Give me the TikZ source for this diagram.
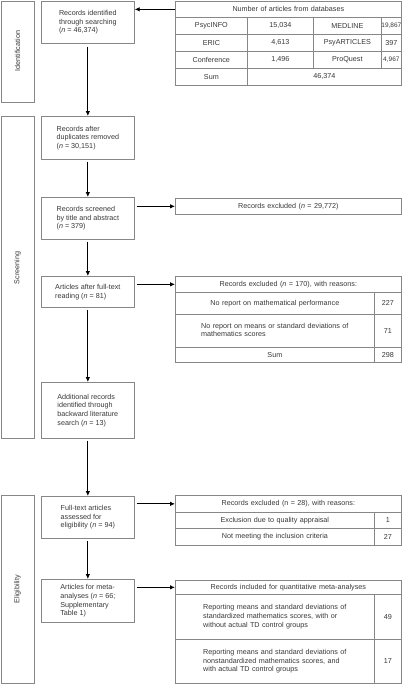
\documentclass[tikz,border=0pt]{standalone}
\usepackage{fontspec}
\setmainfont{Liberation Sans}
\usetikzlibrary{arrows.meta}
\definecolor{linegray}{RGB}{135,135,135}
\definecolor{textgray}{RGB}{55,55,55}
\newcommand{\fs}{\fontsize{7.2}{8.6}\selectfont}
\begin{document}
\begin{tikzpicture}[x=1pt,y=-1pt,
  box/.style={draw=linegray, line width=0.7pt, anchor=north west, inner sep=0pt, align=left, font=\fs, text=textgray},
  side/.style={draw=linegray, line width=0.7pt, anchor=north west, inner sep=0pt, minimum width=33pt},
  sidelabel/.style={rotate=90, font=\fs, text=textgray},
  cell/.style={draw=linegray, line width=0.7pt, anchor=north west, inner xsep=0pt, inner ysep=0pt, align=center, font=\fs, text=textgray},
  arr/.style={black, line width=0.8pt, -{Latex[length=5pt,width=4.5pt]}},
]
\useasboundingbox (0,0) rectangle (403,685);

% side bars
\node[side, minimum height=101pt] (s1) at (1,1) {};
\node[side, minimum height=322pt] (s2) at (1,116) {};
\node[side, minimum height=188pt] (s3) at (1,495) {};
\node[sidelabel] (l1) at (17.5,51) {Identification};
\node[sidelabel] (l2) at (17.5,268) {Screening};
\node[sidelabel] (l3) at (17.5,589) {Eligibility};

% left column
\node[box, minimum width=93pt, minimum height=42pt] (b1) at (41,1) {Records identified\\through searching\\(\textit{n} = 46,374)};
\node[box, minimum width=93pt, minimum height=43pt] (b2) at (41,116) {Records after\\duplicates removed\\(\textit{n} = 30,151)};
\node[box, minimum width=93pt, minimum height=42pt] (b3) at (41,197) {Records screened\\by title and abstract\\(\textit{n} = 379)};
\node[box, minimum width=93pt, minimum height=31pt] (b4) at (41,276) {Articles after full-text\\reading (\textit{n} = 81)};
\node[box, minimum width=93pt, minimum height=56pt] (b5) at (41,382) {Additional records\\identified through\\backward literature\\search (\textit{n} = 13)};
\node[box, minimum width=93pt, minimum height=42pt] (b6) at (41,496) {Full-text articles\\assessed for\\eligibility (\textit{n} = 94)};
\node[box, minimum width=93pt, minimum height=43pt] (b7) at (41,579) {Articles for meta-\\analyses (\textit{n} = 66;\\Supplementary\\Table 1)};

% table 1: databases
\node[cell, text width=226pt, minimum height=16pt] (t1h) at (175,1) {Number of articles from databases};
\node[cell, text width=72pt, minimum height=17pt] (t1a1) at (175,17) {PsycINFO};
\node[cell, text width=66pt, minimum height=17pt] (t1a2) at (247,17) {15,034};
\node[cell, text width=68pt, minimum height=17pt] (t1a3) at (313,17) {MEDLINE};
\node[cell, text width=20pt, minimum height=17pt] (t1a4) at (381,17) {\fontsize{6.5}{8}\selectfont 19,867};
\node[cell, text width=72pt, minimum height=17pt] (t1b1) at (175,34) {ERIC};
\node[cell, text width=66pt, minimum height=17pt] (t1b2) at (247,34) {4,613};
\node[cell, text width=68pt, minimum height=17pt] (t1b3) at (313,34) {PsyARTICLES};
\node[cell, text width=20pt, minimum height=17pt] (t1b4) at (381,34) {397};
\node[cell, text width=72pt, minimum height=17pt] (t1c1) at (175,51) {Conference};
\node[cell, text width=66pt, minimum height=17pt] (t1c2) at (247,51) {1,496};
\node[cell, text width=68pt, minimum height=17pt] (t1c3) at (313,51) {ProQuest};
\node[cell, text width=20pt, minimum height=17pt] (t1c4) at (381,51) {\fontsize{6.5}{8}\selectfont 4,967};
\node[cell, text width=72pt, minimum height=17pt] (t1d1) at (175,68) {Sum};
\node[cell, text width=154pt, minimum height=17pt] (t1d2) at (247,68) {46,374};

% excluded 29,772
\node[cell, text width=226pt, minimum height=16pt] (e1) at (175,198) {Records excluded (\textit{n} = 29,772)};

% excluded 170
\node[cell, text width=226pt, minimum height=16pt] (e2h) at (175,276) {Records excluded (\textit{n} = 170), with reasons:};
\node[cell, text width=199pt, minimum height=22pt] (e2a) at (175,292) {No report on mathematical performance};
\node[cell, text width=27pt, minimum height=22pt] (e2an) at (374,292) {227};
\node[cell, text width=199pt, minimum height=33pt] (e2b) at (175,314) {\begin{tabular}{@{}l@{}}No report on means or standard deviations of\\mathematics scores\end{tabular}};
\node[cell, text width=27pt, minimum height=33pt] (e2bn) at (374,314) {71};
\node[cell, text width=199pt, minimum height=15pt] (e2c) at (175,347) {Sum};
\node[cell, text width=27pt, minimum height=15pt] (e2cn) at (374,347) {298};

% excluded 28
\node[cell, text width=226pt, minimum height=17pt] (e3h) at (175,495) {Records excluded (n = 28), with reasons:};
\node[cell, text width=199pt, minimum height=16pt] (e3a) at (175,512) {Exclusion due to quality appraisal};
\node[cell, text width=27pt, minimum height=16pt] (e3an) at (374,512) {1};
\node[cell, text width=199pt, minimum height=17pt] (e3b) at (175,528) {Not meeting the inclusion criteria};
\node[cell, text width=27pt, minimum height=17pt] (e3bn) at (374,528) {27};

% included
\node[cell, text width=226pt, minimum height=14pt] (i1h) at (175,580) {Records included for quantitative meta-analyses};
\node[cell, text width=199pt, minimum height=45pt] (i1a) at (175,594) {\begin{tabular}{@{}l@{}}Reporting means and standard deviations of\\standardized mathematics scores, with or\\without actual TD control groups\end{tabular}};
\node[cell, text width=27pt, minimum height=45pt] (i1an) at (374,594) {49};
\node[cell, text width=199pt, minimum height=44pt] (i1b) at (175,639) {\begin{tabular}{@{}l@{}}Reporting means and standard deviations of\\nonstandardized mathematics scores, and\\with actual TD control groups\end{tabular}};
\node[cell, text width=27pt, minimum height=44pt] (i1bn) at (374,639) {17};

% arrows
\draw[arr] (t1h.west) -- (t1h.west -| b1.east);
\draw[arr, shorten <=3pt] (b1.south) -- (b2.north);
\draw[arr, shorten <=2pt] (b2.south) -- (b3.north);
\draw[arr, shorten <=2pt] (b3.south) -- (b4.north);
\draw[arr, shorten <=2pt] (b4.south) -- (b5.north);
\draw[arr, shorten <=2pt] (b5.south) -- (b6.north);
\draw[arr, shorten <=2pt] (b6.south) -- (b7.north);
\draw[arr, shorten <=2pt] (e1.west -| b3.east) -- (e1.west);
\draw[arr, shorten <=2pt] (e2h.west -| b4.east) -- (e2h.west);
\draw[arr, shorten <=2pt] (e3h.west -| b6.east) -- (e3h.west);
\draw[arr, shorten <=2pt] (i1h.west -| b7.east) -- (i1h.west);
\end{tikzpicture}
\end{document}
